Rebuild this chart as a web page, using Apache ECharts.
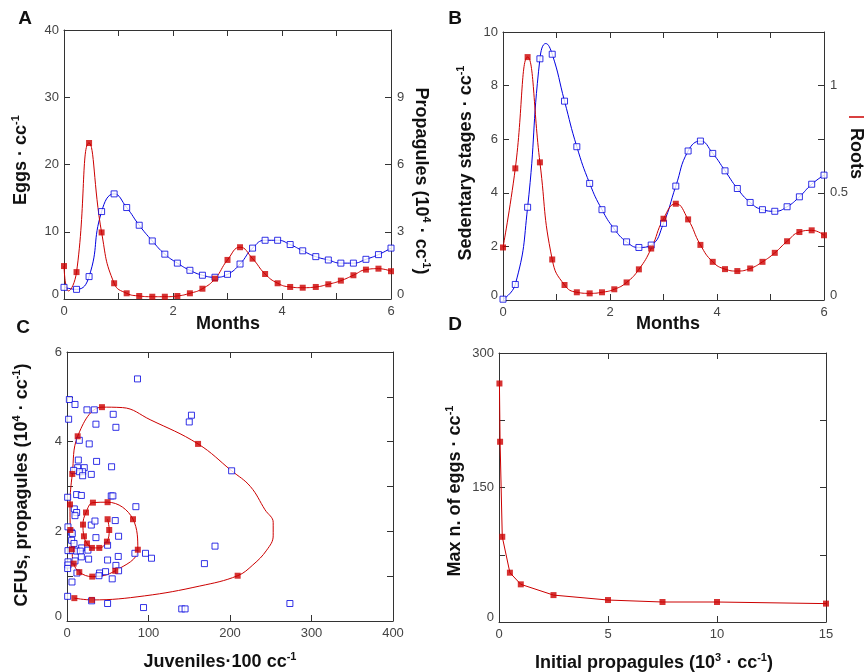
<!DOCTYPE html>
<html>
<head>
<meta charset="utf-8">
<script src="https://cdn.jsdelivr.net/npm/echarts@6/dist/echarts.min.js"></script>
<style>
  html, body { margin: 0; padding: 0; background: #fff; }
  #chart { width: 864px; height: 672px; }
</style>
</head>
<body>
<div id="chart"></div>
<script>
// ---- sampling times (months), weekly ----
const months = [0, 0.23, 0.46, 0.69, 0.92, 1.15, 1.38, 1.62, 1.85, 2.08, 2.31, 2.54, 2.77,
  3.0, 3.23, 3.46, 3.69, 3.92, 4.15, 4.38, 4.62, 4.85, 5.08, 5.31, 5.54, 5.77, 6.0];

// ---- panel A: eggs (left axis) and propagules x10^4 (right axis) ----
const eggs = [4.9, 4.0, 23.2, 9.9, 2.34, 0.85, 0.45, 0.34, 0.34, 0.45, 0.85, 1.53, 3.02,
  5.81, 7.7, 6.0, 3.72, 2.34, 1.79, 1.68, 1.79, 2.19, 2.73, 3.53, 4.37, 4.51, 4.13];
const eggsEarlyDip = [[0.08, 1.2]];
const propagules = [0.52, 0.43, 1.0, 3.9, 4.69, 4.08, 3.29, 2.59, 2.0, 1.6, 1.28, 1.06, 0.97,
  1.1, 1.56, 2.27, 2.62, 2.62, 2.43, 2.15, 1.89, 1.74, 1.6, 1.6, 1.77, 1.98, 2.27];

// ---- panel B: sedentary stages (left axis) and roots (right axis) ----
const sedentary = [0.03, 0.58, 3.46, 9.0, 9.17, 7.42, 5.72, 4.35, 3.37, 2.65, 2.17, 1.96, 2.05,
  2.86, 4.25, 5.56, 5.93, 5.47, 4.82, 4.16, 3.64, 3.37, 3.31, 3.48, 3.85, 4.32, 4.66];
const sedentaryPeak = [[0.8, 9.57]];
const roots = [0.245, 0.614, 1.133, 0.642, 0.189, 0.07, 0.036, 0.031, 0.036, 0.05, 0.082, 0.143, 0.24,
  0.379, 0.449, 0.376, 0.257, 0.178, 0.144, 0.135, 0.147, 0.178, 0.22, 0.274, 0.317, 0.325, 0.302];

// ---- panel C: model trajectory (juveniles vs CFUs) ----
const juvenilesModel = [9, 30.6, 209.4, 160.8, 42.9, 13.1, 6.5, 3.7, 4.1, 6, 8.2, 15.1, 31,
  59.2, 86.9, 81, 49.8, 31.8, 23.3, 19.6, 20.8, 24.5, 30.6, 39.6, 49, 51.8, 49.8];
const cfuModel = [0.51, 0.47, 1.01, 3.95, 4.77, 4.12, 3.28, 2.6, 2.03, 1.6, 1.28, 1.09, 0.99,
  1.12, 1.59, 2.27, 2.65, 2.64, 2.42, 2.15, 1.89, 1.73, 1.63, 1.63, 1.77, 2.03, 2.27];
// extra points traced along the trajectory between weekly samples
const cfuBottomArc = [[95, 0.56], [163, 0.78]];
const cfuRightLobe = [[228, 1.25], [245, 1.58], [253, 1.9], [253, 2.2], [243, 2.48], [225, 3.0], [202, 3.35]];
const cfuTopArc = [[102, 4.49], [68, 4.76]];

// ---- panel C: observations ----
const juvenilesObs = [86.5, 2.9, 9.8, 2, 24.5, 33.5, 56.7, 35.5, 60, 150, 152.7, 15.1, 27.3, 13.9,
  36.3, 54.7, 13.1, 21.2, 19.2, 15.1, 19.2, 29.8, 8.2, 11.8, 17.6, 54.3, 56.3, 0.8, 202,
  9, 11.8, 9.8, 84.5, 29.8, 34.3, 59.2, 5.3, 6.5, 35.5, 63.3, 5.7, 8.6, 18, 25.7, 49.8, 1.2,
  6.5, 11.8, 16.3, 83.3, 96.3, 17.6, 26.5, 49.8, 62.9, 103.7, 9.8, 60, 1.2, 1.2, 0.8, 12.2,
  40, 47.3, 63.3, 39.2, 55.5, 6.1, 0.8, 30.2, 49.8, 93.9, 140.8, 144.9, 181.6, 168.6, 273.5, 1.2];
const cfuObs = [5.4, 4.94, 4.83, 4.5, 4.71, 4.71, 4.61, 4.39, 4.32, 4.44, 4.59, 4.03, 3.95, 3.59,
  3.56, 3.44, 3.42, 3.42, 3.33, 3.33, 3.24, 3.27, 3.36, 2.82, 2.8, 2.79, 2.79, 2.76, 3.35,
  2.5, 2.42, 2.35, 2.55, 2.14, 2.23, 2.24, 1.98, 1.95, 1.86, 1.89, 1.8, 1.73, 1.63, 1.58, 1.69, 1.57,
  1.57, 1.56, 1.56, 1.51, 1.51, 1.43, 1.38, 1.36, 1.44, 1.4, 1.34, 1.24, 1.32, 1.25, 1.17, 1.07,
  1.07, 1.1, 1.12, 1.01, 0.94, 0.87, 0.55, 0.45, 0.39, 0.3, 0.27, 0.27, 1.67, 1.28, 0.39, 2.1];

// ---- panel D: peak egg density vs initial inoculum ----
const initialPropagules = [0.02, 0.05, 0.15, 0.5, 1, 2.5, 5, 7.5, 10, 15];
const maxEggs = [266, 201, 95, 55, 42, 30, 24.5, 22.3, 22.3, 20.5];

// ---- axis tick labels ----
const monthTicks = [0, 2, 4, 6];
const rootTicks = [0, 0.5, 1];
const cfuTicks = [0, 2, 4, 6];
const eggMaxTicks = [0, 150, 300];

const RED = '#cc0000';
const BLUE = '#0000e0';
const FRAME = '#333';
const FONT = "'Liberation Sans', Arial, sans-serif";

const zip = (xs, ys) => xs.map((x, i) => [x, ys[i]]);
const byX = pts => pts.slice().sort((a, b) => a[0] - b[0]);

// value axis with inward ticks; `liftZero` raises the "0" label off the corner
function axis(extra, labels, liftZero) {
  const a = {
    type: 'value',
    axisLine: { show: true, onZero: false, lineStyle: { color: FRAME, width: 1 } },
    axisTick: { show: true, inside: true, length: 6, lineStyle: { color: FRAME, width: 1 } },
    splitLine: { show: false },
    axisLabel: { show: !!labels, color: '#444', fontSize: 13, fontFamily: FONT, margin: 6,
      rich: { z: { padding: [0, 0, 9, 0], color: '#444', fontSize: 13, fontFamily: FONT } },
      formatter: v => {
        if (!labels || !labels.some(t => Math.abs(t - v) < 1e-9)) return '';
        return (liftZero && v === 0) ? '{z|0}' : String(v);
      } }
  };
  return Object.assign(a, extra);
}

const grids = [
  { left: 64, top: 30, width: 327, height: 269 },
  { left: 503, top: 32, width: 321, height: 268 },
  { left: 67, top: 352, width: 326, height: 269 },
  { left: 499, top: 353, width: 327, height: 269 }
];

const xAxes = [
  axis({ gridIndex: 0, min: 0, max: 6, interval: 1 }, monthTicks),
  axis({ gridIndex: 0, min: 0, max: 6, interval: 1, position: 'top' }),
  axis({ gridIndex: 1, min: 0, max: 6, interval: 1 }, monthTicks),
  axis({ gridIndex: 1, min: 0, max: 6, interval: 1, position: 'top' }),
  axis({ gridIndex: 2, min: 0, max: 400, interval: 100 }, [0, 100, 200, 300, 400]),
  axis({ gridIndex: 2, min: 0, max: 400, interval: 100, position: 'top' }),
  axis({ gridIndex: 3, min: 0, max: 15, interval: 5 }, [0, 5, 10, 15]),
  axis({ gridIndex: 3, min: 0, max: 15, interval: 5, position: 'top' })
];

const yAxes = [
  axis({ gridIndex: 0, min: 0, max: 40, interval: 10 }, [0, 10, 20, 30, 40], true),
  axis({ gridIndex: 0, min: 0, max: 12, interval: 3, position: 'right' }, [0, 3, 6, 9], true),
  axis({ gridIndex: 1, min: 0, max: 10, interval: 2 }, [0, 2, 4, 6, 8, 10], true),
  axis({ gridIndex: 1, min: 0, max: 1.25, interval: 0.25, position: 'right' }, rootTicks, true),
  axis({ gridIndex: 2, min: 0, max: 6, interval: 1 }, cfuTicks, true),
  axis({ gridIndex: 2, min: 0, max: 6, interval: 1, position: 'right' }),
  axis({ gridIndex: 3, min: 0, max: 300, interval: 75 }, eggMaxTicks, true),
  axis({ gridIndex: 3, min: 0, max: 300, interval: 75, position: 'right' })
];
[0, 2, 4, 6].forEach(i => { yAxes[i].axisLabel.margin = 5; });

function curve(xi, yi, data, color, smooth) {
  return { type: 'line', xAxisIndex: xi, yAxisIndex: yi, data, smooth, symbol: 'none',
    lineStyle: { color, width: 1 }, silent: true, z: 2 };
}
function filled(xi, yi, data) {
  return { type: 'scatter', xAxisIndex: xi, yAxisIndex: yi, data, symbol: 'rect', symbolSize: 6,
    itemStyle: { color: RED }, silent: true, z: 4 };
}
function hollow(xi, yi, data) {
  return { type: 'scatter', xAxisIndex: xi, yAxisIndex: yi, data, symbol: 'rect', symbolSize: 6,
    itemStyle: { color: '#fff', borderColor: BLUE, borderWidth: 1 }, silent: true, z: 3 };
}

// trajectory for panel C, with traced arcs between samples
const modelPts = zip(juvenilesModel, cfuModel);
const spiral = [modelPts[0], modelPts[1], ...cfuBottomArc, modelPts[2], ...cfuRightLobe,
  modelPts[3], ...cfuTopArc, ...modelPts.slice(4)];

const series = [
  // A
  curve(0, 1, zip(months, propagules), BLUE, 0.5),
  hollow(0, 1, zip(months, propagules)),
  curve(0, 0, byX(zip(months, eggs).concat(eggsEarlyDip)), RED, 0.5),
  filled(0, 0, zip(months, eggs)),
  // B
  curve(2, 2, byX(zip(months, sedentary).concat(sedentaryPeak)), BLUE, 0.5),
  hollow(2, 2, zip(months, sedentary)),
  curve(2, 3, zip(months, roots), RED, 0.5),
  filled(2, 3, zip(months, roots)),
  // C
  hollow(4, 4, zip(juvenilesObs, cfuObs)),
  curve(4, 4, spiral, RED, 0.4),
  filled(4, 4, modelPts),
  // D
  curve(6, 6, zip(initialPropagules, maxEggs), RED, false),
  filled(6, 6, zip(initialPropagules, maxEggs))
];

const bold = { fontSize: 18, fontWeight: 'bold', fontFamily: FONT, lineHeight: 22, fill: '#111' };
const sup = { fontSize: 11, fontWeight: 'bold', fontFamily: FONT, lineHeight: 12, verticalAlign: 'top', fill: '#111' };
function title(x, y, text, rotation, align) {
  return { type: 'text', x, y, rotation: rotation || 0, silent: true,
    style: { text, align: align || 'center', verticalAlign: 'middle', rich: { b: bold, s: sup },
      font: "bold 18px " + FONT, fill: '#111' } };
}
function letter(x, y, t) {
  return { type: 'text', x, y, silent: true,
    style: { text: t, font: "bold 19px " + FONT, fill: '#111', align: 'center', verticalAlign: 'middle' } };
}

const graphic = [
  letter(25, 19, 'A'), letter(455, 19, 'B'), letter(23, 328, 'C'), letter(455, 325, 'D'),
  title(21, 160, '{b|Eggs · cc}{s|-1}', Math.PI / 2),
  title(421, 181, '{b|Propagules (10}{s|4}{b| · cc}{s|-1}{b|)}', -Math.PI / 2),
  title(228, 324, '{b|Months}'),
  title(466, 163, '{b|Sedentary stages · cc}{s|-1}', Math.PI / 2),
  title(668, 324, '{b|Months}'),
  title(856, 128, '{b|Roots}', -Math.PI / 2, 'left'),
  { type: 'line', silent: true, shape: { x1: 849, y1: 117, x2: 866, y2: 117 },
    style: { stroke: RED, lineWidth: 1.5 } },
  title(22, 485, '{b|CFUs, propagules (10}{s|4}{b| · cc}{s|-1}{b|)}', Math.PI / 2),
  title(220, 662, '{b|Juveniles·100 cc}{s|-1}'),
  title(455, 491, '{b|Max n. of eggs · cc}{s|-1}', Math.PI / 2),
  title(654, 663, '{b|Initial propagules (10}{s|3}{b| · cc}{s|-1}{b|)}')
];

const chart = echarts.init(document.getElementById('chart'), null, { renderer: 'canvas' });
chart.setOption({
  animation: false,
  backgroundColor: '#fff',
  grid: grids,
  xAxis: xAxes,
  yAxis: yAxes,
  series,
  graphic
});
</script>
</body>
</html>
